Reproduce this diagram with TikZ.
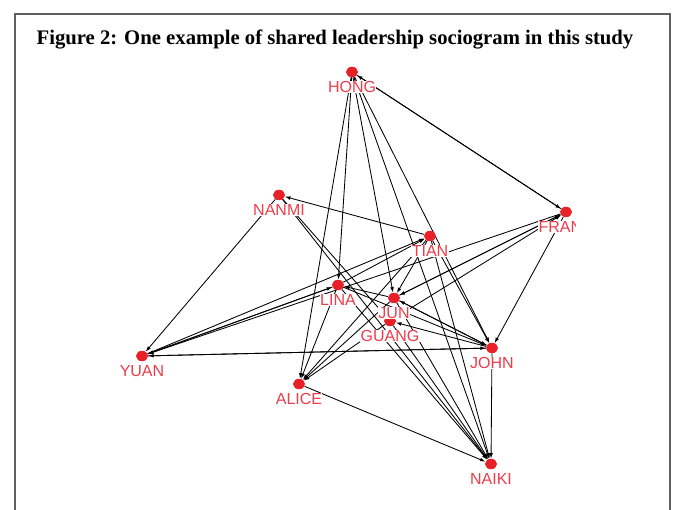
\documentclass[tikz,border=0pt]{standalone}
\usepackage{fontspec}
\setmainfont{Liberation Serif}
\setsansfont{Liberation Sans}
\usetikzlibrary{arrows.meta}
\usetikzlibrary{shapes.geometric}
\usetikzlibrary{positioning}
\definecolor{dotred}{RGB}{232,32,40}
\definecolor{lblred}{RGB}{238,60,74}
\definecolor{framegray}{RGB}{95,95,95}
\pgfdeclarelayer{back}
\pgfsetlayers{back,main}

\begin{document}
\begin{tikzpicture}[x=1pt,y=-1pt,>={Latex[length=5.5pt,width=3.8pt]},
  dot/.style={ellipse,fill=dotred,inner sep=0,minimum width=12pt,minimum height=10.5pt},
  lbl/.style={font=\sffamily\fontsize{16}{16}\selectfont,text=lblred,fill=white,inner sep=0.3pt},
  edge/.style={->,line width=0.85pt}]
\useasboundingbox (0,0) rectangle (674,510);
\draw[framegray,line width=1.3pt] (15,510) -- (15,14) -- (670,14) -- (670,510);
\node[font=\bfseries\fontsize{20.7}{24}\selectfont] (title) at (335,40) {Figure 2: One example of shared leadership sociogram in this study};

% members
\node[dot] (hong) at (352,72) {};
\node[dot] (nanmi) at (279,195) {};
\node[dot] (tian) at (430,236) {};
\node[dot] (fran) at (566,212) {};
\node[dot] (lina) at (338,285) {};
\node[dot] (jun) at (394,298) {};
\node[dot] (guang) at (390,321) {};
\node[dot] (yuan) at (142,356) {};
\node[dot] (john) at (492,348) {};
\node[dot] (alice) at (299,384) {};
\node[dot] (naiki) at (491,464) {};

\node[lbl,below=3.4pt of hong] (hongL) {HONG};
\node[lbl,below=3.4pt of nanmi] (nanmiL) {NANMI};
\node[lbl,below=3.4pt of tian] (tianL) {TIAN};
\node[lbl,below=3.4pt of lina] (linaL) {LINA};
\node[lbl,below=3.4pt of jun] (junL) {JUN};
\node[lbl,below=3.4pt of guang] (guangL) {GUANG};
\node[lbl,below=3.4pt of yuan] (yuanL) {YUAN};
\node[lbl,below=3.4pt of john] (johnL) {JOHN};
\node[lbl,below=3.4pt of alice] (aliceL) {ALICE};
\node[lbl,below=3.4pt of naiki] (naikiL) {NAIKI};
\begin{scope}
\clip (0,0) rectangle (575.5,510);
\node[lbl,anchor=north west] (franL) at (538,221) {FRAN};
\end{scope}

% ties
\begin{pgfonlayer}{back}
\draw[edge] (hong) to (fran);
\draw[edge] (fran) to (hong);
\draw[edge] (hong) to (alice);
\draw[edge] (hong) to (lina);
\draw[edge] (hong) to (jun);
\draw[edge] (hong) to (naiki);
\draw[edge] (hong) to (john);

\draw[edge] (tian) to (nanmi);
\draw[edge] (nanmi) to (yuan);
\draw[edge] (nanmi) to (naiki);
\draw[edge] (nanmi) to (guang);

\draw[edge] (yuan) to (tian);
\draw[edge] (yuan) to (lina);
\draw[edge] (lina) to (yuan);
\draw[edge] (fran) to (yuan);
\draw[edge] (yuan) to (john);
\draw[edge] (john) to (yuan);

\draw[edge] (fran) to (john);
\draw[edge] (fran) to (jun);
\draw[edge] (jun) to (fran);
\draw[edge] (guang) to (fran);

\draw[edge] (tian) to (john);
\draw[edge] (lina) to (tian);
\draw[edge] (tian) to (jun);
\draw[edge] (tian) to (alice);
\draw[edge] (tian) to (naiki);

\draw[edge] (jun) to (lina);
\draw[edge] (jun) to (alice);
\draw[edge] (jun) to (john);
\draw[edge] (john) to (jun);
\draw[edge] (jun) to (naiki);

\draw[edge] (guang) to (alice);
\draw[edge] (john) to (guang);
\draw[edge] (guang) to (naiki);

\draw[edge] (lina) to (john);
\draw[edge] (lina) to (naiki);
\draw[edge] (lina) to (alice);
\draw[edge] (alice) to (naiki);
\draw[edge] (john) to (naiki);
\end{pgfonlayer}
\end{tikzpicture}
\end{document}
